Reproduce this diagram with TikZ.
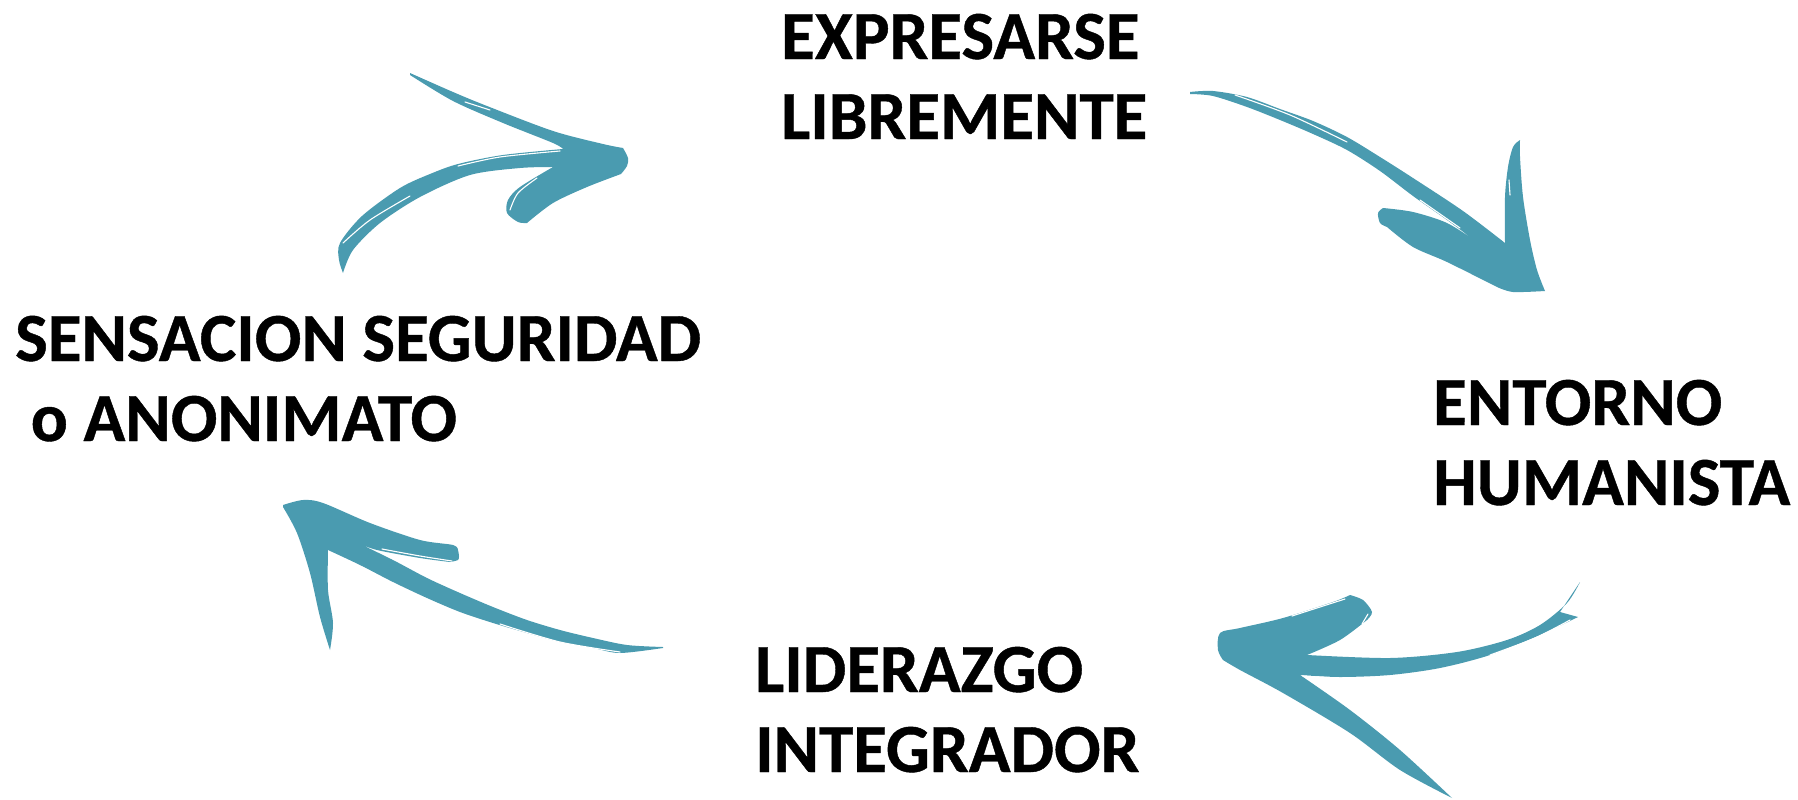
\documentclass[tikz,border=0pt]{standalone}
\usepackage{fontspec}
\setmainfont{Carlito}[BoldFeatures={FakeBold=0.6}]
\definecolor{brushteal}{RGB}{74,155,176}

\begin{document}
\begin{tikzpicture}[x=1pt,y=-1pt]
    \tikzstyle{textlabel}=[anchor=base west,inner sep=0pt,align=left,font=\fontsize{69}{80}\selectfont\bfseries]
    \tikzstyle{brushstroke}=[fill=brushteal,draw=none]
    \tikzstyle{streak}=[draw=white,line width=1.1pt,line cap=round]
    \useasboundingbox (0,0) rectangle (1798,800);
    % Draw the four labels (anchored at the last line)
    \node[textlabel] (expr) at (781,139) {EXPRESARSE\\LIBREMENTE};
    \node[textlabel] (entorno) at (1433,505) {ENTORNO\\HUMANISTA};
    \node[textlabel] (lider) at (755,772) {LIDERAZGO\\INTEGRADOR};
    \node[textlabel] (sens) at (15,441) {SENSACION SEGURIDAD\\~o ANONIMATO};
    % Brush arrow: seguridad -> expresarse
    \fill[brushstroke] plot[smooth] coordinates {(410,73) (453,92) (487,106) (553,131) (603,144) (623,148)}
      -- plot[smooth] coordinates {(623,148) (628,158) (627,166) (621,174)}
      -- plot[smooth] coordinates {(621,174) (587,187) (553,203) (527,223)}
      -- plot[smooth] coordinates {(527,223) (518,222) (507,213) (508,200) (520,187) (553,167)}
      -- plot[smooth] coordinates {(553,167) (520,168) (470,175) (420,197) (380,223) (353,250) (343,273)}
      -- plot[smooth] coordinates {(343,273) (339,260) (340,243) (362,216) (400,188) (430,174) (458,164) (503,155) (563,149)}
      -- plot[smooth] coordinates {(563,149) (553,143) (503,123) (453,101) (410,75)} -- cycle;
    \draw[streak] plot[smooth] coordinates {(343,243) (370,220) (410,196)};
    \draw[streak] plot[smooth] coordinates {(458,166) (500,157) (560,151)};
    \draw[streak] plot[smooth] coordinates {(510,210) (518,193) (537,178)};
    \draw[streak] plot[smooth] coordinates {(465,102) (490,110)};
    % Brush arrow: expresarse -> entorno
    \fill[brushstroke] plot[smooth] coordinates {(1190,92) (1213,91) (1247,97) (1280,109) (1313,121) (1347,137) (1380,157) (1413,178) (1463,211) (1505,243)}
      -- plot[smooth] coordinates {(1505,243) (1505,197) (1508,167) (1513,147) (1520,140)}
      -- plot[smooth] coordinates {(1520,140) (1520,157) (1523,197) (1530,240) (1537,270) (1545,291)}
      -- plot[smooth] coordinates {(1545,291) (1513,292) (1497,287)}
      -- plot[smooth] coordinates {(1497,287) (1447,262) (1413,247) (1387,227)}
      -- plot[smooth] coordinates {(1387,227) (1380,223) (1378,213) (1383,208)}
      -- plot[smooth] coordinates {(1383,208) (1413,212) (1447,223) (1477,242)}
      -- plot[smooth] coordinates {(1477,242) (1447,220) (1413,196) (1380,171) (1347,150) (1313,134) (1280,120) (1247,107) (1213,96) (1190,94)} -- cycle;
    \draw[streak] plot[smooth] coordinates {(1235,95) (1290,115) (1347,142)};
    \draw[streak] plot[smooth] coordinates {(1420,200) (1460,228)};
    \draw[streak] plot[smooth] coordinates {(1509,180) (1510,195)};
    % Brush arrow: entorno -> liderazgo
    \fill[brushstroke] plot[smooth] coordinates {(1223,660) (1218,650) (1220,633) (1240,628) (1283,618) (1333,602) (1350,595)}
      -- plot[smooth] coordinates {(1350,595) (1363,600) (1372,612) (1367,620)}
      -- plot[smooth] coordinates {(1367,620) (1340,640) (1307,655)}
      -- plot[smooth] coordinates {(1307,655) (1390,658) (1457,652) (1507,640) (1540,625) (1567,603) (1580,582)}
      -- (1560,612) -- (1578,617)
      -- plot[smooth] coordinates {(1578,617) (1540,635) (1490,655) (1440,668) (1390,675) (1340,677) (1300,675)}
      -- plot[smooth] coordinates {(1300,675) (1350,710) (1400,750) (1452,798)}
      -- plot[smooth] coordinates {(1452,798) (1400,770) (1350,733) (1283,693) (1240,670) (1223,660)} -- cycle;
    \draw[streak] plot[smooth] coordinates {(1490,655) (1535,638) (1570,620)};
    \draw[streak] plot[smooth] coordinates {(1303,676) (1370,680) (1430,681)};
    \draw[streak] plot[smooth] coordinates {(1292,616) (1320,607) (1345,599)};
    \draw[streak] plot[smooth] coordinates {(1362,624) (1368,614)};
    % Brush arrow: liderazgo -> seguridad
    \fill[brushstroke] plot[smooth] coordinates {(283,505) (303,500) (323,503) (370,523) (420,540) (453,545) (458,550)}
      -- plot[smooth] coordinates {(458,550) (459,556) (458,560) (450,562)}
      -- plot[smooth] coordinates {(450,562) (420,558) (377,550) (358,543)}
      -- plot[smooth] coordinates {(358,543) (393,560) (427,578) (460,593) (493,607) (527,620) (560,630) (593,638) (627,645) (663,647)}
      -- plot[smooth] coordinates {(663,648) (620,653) (593,648) (560,642) (527,633) (493,623) (460,612) (427,598) (393,582) (360,565) (328,550)}
      -- plot[smooth] coordinates {(328,550) (328,590) (333,623) (330,650)}
      -- plot[smooth] coordinates {(330,650) (320,617) (310,573) (297,533) (283,507)} -- cycle;
    \draw[streak] plot[smooth] coordinates {(362,567) (400,588) (433,603)};
    \draw[streak] plot[smooth] coordinates {(500,624) (560,642) (620,652)};
    \draw[streak] plot[smooth] coordinates {(382,549) (420,556) (452,561)};
    \draw[streak] plot[smooth] coordinates {(330,595) (334,610)};
\end{tikzpicture}
\end{document}
